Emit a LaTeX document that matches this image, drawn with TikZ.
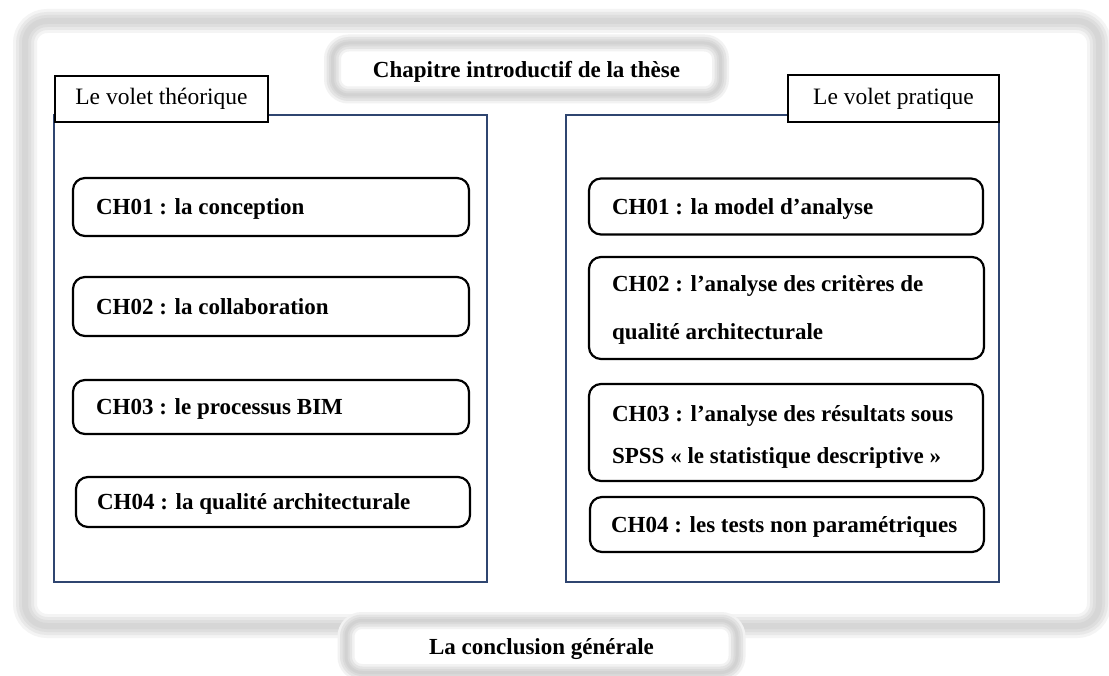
\documentclass[tikz,border=0pt]{standalone}
\usepackage{fontspec}
\setmainfont{Liberation Serif}
\definecolor{panelblue}{RGB}{47,69,112}
\begin{document}
\begin{tikzpicture}[x=1pt,y=-1pt,
  softband/.style={rounded corners=#1,
    preaction={draw=gray!9,line width=24},
    preaction={draw=gray!18,line width=18},
    preaction={draw=gray!26,line width=12},
    draw=gray!32,line width=6},
  capsule/.style={rounded corners=16,inner sep=0,text depth=0pt,
    preaction={fill=white},
    preaction={draw=gray!10,line width=17},
    preaction={draw=gray!21,line width=12},
    preaction={draw=gray!29,line width=7},
    draw=gray!35,line width=3,
    font=\bfseries\fontsize{23}{27}\selectfont},
  panel/.style={draw=panelblue,line width=1.8,inner sep=0},
  tag/.style={draw=black,fill=white,line width=1.8,inner sep=0,
    font=\fontsize{23.5}{27}\selectfont},
  chap/.style={draw=black,fill=white,line width=2.2,rounded corners=12,inner sep=0},
  chtext/.style={anchor=west,align=left,inner sep=0,text depth=0pt,
    font=\bfseries\fontsize{23}{27}\selectfont}]
\useasboundingbox (0,0) rectangle (1109,676);
\clip (0,0) rectangle (1109,676);
\fill[white] (0,0) rectangle (1109,676);

% outer frame
\path[softband=22] (25,21) rectangle (1099,626);

% title of the thesis introduction
\node[capsule,minimum width=388,minimum height=52] (intro) at (526.5,69) {Chapitre introductif de la thèse};

% the two parts
\node[panel,minimum width=433,minimum height=467] (theo) at (270.5,348.5) {};
\node[panel,minimum width=433,minimum height=467] (prat) at (782.5,348.5) {};
\node[tag,minimum width=213,minimum height=46] (theoLbl) at (161.5,99) {Le volet théorique};
\node[tag,minimum width=211,minimum height=47] (pratLbl) at (893.5,98.5) {Le volet pratique};

% theoretical chapters
\node[chap,minimum width=396,minimum height=58] (t1) at (271,207) {};
\node[chtext] (t1txt) at ([xshift=24pt]t1.west) {CH01 : la conception};
\node[chap,minimum width=396,minimum height=59] (t2) at (271,306.5) {};
\node[chtext] (t2txt) at ([xshift=24pt]t2.west) {CH02 : la collaboration};
\node[chap,minimum width=396,minimum height=54] (t3) at (271,407) {};
\node[chtext] (t3txt) at ([xshift=24pt]t3.west) {CH03 : le processus BIM};
\node[chap,minimum width=394,minimum height=50] (t4) at (273,502) {};
\node[chtext] (t4txt) at ([xshift=22pt]t4.west) {CH04 : la qualité architecturale};

% practical chapters
\node[chap,minimum width=394,minimum height=56] (p1) at (786,206.5) {};
\node[chtext] (p1txt) at ([xshift=24pt]p1.west) {CH01 : la model d’analyse};
\node[chap,minimum width=395,minimum height=102] (p2) at (786.5,308) {};
\node[chtext,font=\bfseries\fontsize{23}{48}\selectfont] (p2txt) at ([xshift=24pt]p2.west)
  {CH02 : l’analyse des critères de\\qualité architecturale};
\node[chap,minimum width=394,minimum height=97] (p3) at (786,432.5) {};
\node[chtext,font=\bfseries\fontsize{23}{42}\selectfont] (p3txt) at ([xshift=24pt,yshift=-2pt]p3.west)
  {CH03 : l’analyse des résultats sous\\SPSS « le statistique descriptive »};
\node[chap,minimum width=394,minimum height=55] (p4) at (787,524.5) {};
\node[chtext] (p4txt) at ([xshift=22pt]p4.west) {CH04 : les tests non paramétriques};

% general conclusion
\node[capsule,minimum width=391,minimum height=52] (concl) at (541.5,646.5) {La conclusion générale};
\end{tikzpicture}
\end{document}
